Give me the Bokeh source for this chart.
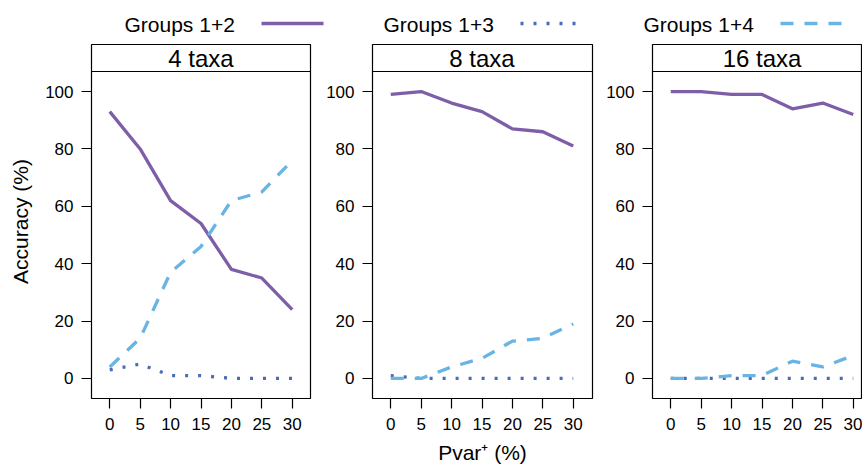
from bokeh.plotting import figure
from bokeh.layouts import row, column
from bokeh.models import Range1d, FixedTicker, Span, Label
from bokeh.core.properties import value
from bokeh.embed import file_html
from bokeh.resources import INLINE

# ---------------- data ----------------
pvar = [0, 5, 10, 15, 20, 25, 30]
taxa = ["4 taxa", "8 taxa", "16 taxa"]
series = ["Groups 1+2", "Groups 1+3", "Groups 1+4"]
x_ticks = [0, 5, 10, 15, 20, 25, 30]
y_ticks = [0, 20, 40, 60, 80, 100]

g12_4 = [93, 80, 62, 54, 38, 35, 24]
g13_4 = [3, 5, 1, 1, 0, 0, 0]
g14_4 = [4, 14, 37, 46, 62, 65, 76]

g12_8 = [99, 100, 96, 93, 87, 86, 81]
g13_8 = [1, 0, 0, 0, 0, 0, 0]
g14_8 = [0, 0, 4, 7, 13, 14, 19]

g12_16 = [100, 100, 99, 99, 94, 96, 92]
g13_16 = [0, 0, 0, 0, 0, 0, 0]
g14_16 = [0, 0, 1, 1, 6, 4, 8]

panels = [(g12_4, g13_4, g14_4), (g12_8, g13_8, g14_8), (g12_16, g13_16, g14_16)]

# ---------------- style ----------------
FONT = "Liberation Sans"
colors = ["#7f5ea8", "#4a6cb3", "#68b4e4"]
dashes = ["solid", "3 10", "13 11"]
LW = 3.3

XMIN, XMAX = -3, 33
YMIN, YMAX = -7, 107
PANEL_PX = 327
STRIP_PX = 27
strip_units = (YMAX - YMIN) * STRIP_PX / PANEL_PX
YTOP = YMAX + strip_units

# figure geometry: (width, min_border_left, frame width, min_border_right)
geom = [(320, 91, 219, 10), (282, 52, 220, 10), (260, 50, 210, 0)]
FIG_H = 427
MB_TOP, MB_BOTTOM = 4, 69

figs = []
for i, (name, vals) in enumerate(zip(taxa, panels)):
    w, ml, fw, mr = geom[i]
    x_end = XMIN + (XMAX - XMIN) * fw / 219.0
    p = figure(width=w, height=FIG_H, x_range=Range1d(XMIN, x_end),
               y_range=Range1d(YMIN, YTOP), toolbar_location=None,
               output_backend="svg", min_border_left=ml, min_border_right=mr,
               min_border_top=MB_TOP, min_border_bottom=MB_BOTTOM)
    p.grid.visible = False
    p.outline_line_color = "black"
    p.outline_line_width = 1.2
    p.background_fill_color = "white"
    p.border_fill_color = "white"

    for ax, ticks in ((p.xaxis, x_ticks), (p.yaxis, y_ticks)):
        ax.ticker = FixedTicker(ticks=ticks)
        ax.axis_line_color = None
        ax.major_tick_in = 0
        ax.major_tick_out = 10
        ax.major_tick_line_color = "black"
        ax.major_tick_line_width = 1.2
        ax.minor_tick_line_color = None
        ax.major_label_text_font = FONT
        ax.major_label_text_font_size = "17px"
        ax.major_label_text_color = "black"
        ax.axis_label_text_font = FONT
        ax.axis_label_text_font_style = "normal"
        ax.axis_label_text_color = "black"
    p.yaxis.major_label_standoff = 8
    p.xaxis.major_label_standoff = 9

    if i == 0:
        p.yaxis.axis_label = "Accuracy (%)"
        p.yaxis.axis_label_text_font_size = "21px"
        p.yaxis.axis_label_standoff = 10
    if i == 1:
        p.xaxis.axis_label = "Pvar\u207a (%)"
        p.xaxis.axis_label_text_font_size = "21px"
        p.xaxis.axis_label_standoff = 8

    for s, ys in enumerate(vals):
        p.line(pvar, ys, line_color=colors[s], line_width=LW,
               line_dash=dashes[s], line_cap="butt", line_join="round")

    # strip
    p.add_layout(Span(location=YMAX, dimension="width", line_color="black",
                      line_width=1.2))
    p.add_layout(Label(x=(XMIN + XMAX) / 2, y=YMAX + strip_units / 2, text=name,
                       text_align="center", text_baseline="middle",
                       text_font=FONT, text_font_size="24px",
                       text_color="black"))
    figs.append(p)

# ---------------- legend (key above panels) ----------------
LEG_H = 40
leg = figure(width=862, height=LEG_H, x_range=Range1d(0, 862),
             y_range=Range1d(LEG_H, 0), toolbar_location=None,
             output_backend="svg", min_border=0)
leg.axis.visible = False
leg.grid.visible = False
leg.outline_line_color = None
leg_x = [124, 383, 643]
leg_y = 24
leg.text(x=leg_x, y=[leg_y] * 3, text=series, text_font=value(FONT),
         text_font_size="21px", text_baseline="middle", text_align="left",
         text_color="black")
for s in range(3):
    x0 = leg_x[s] + 137
    leg.line([x0, x0 + 62], [leg_y - 1, leg_y - 1], line_color=colors[s],
             line_width=LW, line_dash=dashes[s], line_cap="butt")

layout = column(leg, row(*figs, spacing=0), spacing=0)

open("out.html", "w").write(file_html(layout, INLINE))
